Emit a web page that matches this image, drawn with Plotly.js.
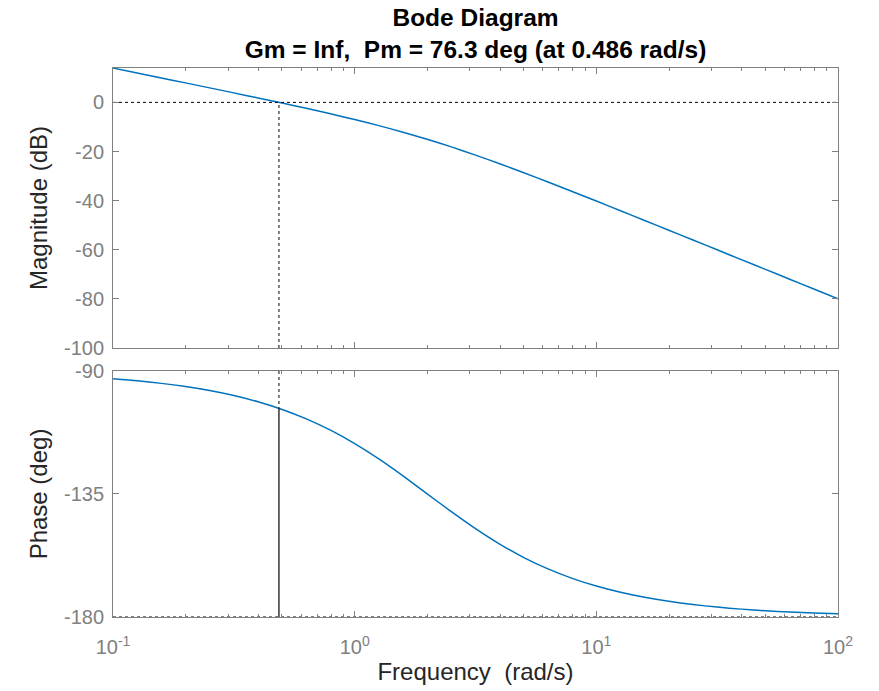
<!DOCTYPE html>
<html>
<head>
<meta charset="utf-8">
<script src="https://cdn.plot.ly/plotly-3.0.1.min.js"></script>
<style>html,body{margin:0;padding:0;background:#fff;}#chart{width:879px;height:691px;}</style>
</head>
<body>
<div id="chart"></div>
<script>
// Frequency samples (rad/s)
const freq = [0.1, 0.1259, 0.1585, 0.1995, 0.2512, 0.3162, 0.3981, 0.5012, 0.631, 0.7943,
  1, 1.259, 1.585, 1.995, 2.512, 3.162, 3.981, 5.012, 6.31, 7.943,
  10, 12.59, 15.85, 19.95, 25.12, 31.62, 39.81, 50.12, 63.1, 79.43, 100];
// Magnitude (dB)
const magnitude = [13.97, 11.96, 9.95, 7.94, 5.91, 3.87, 1.81, -0.29, -2.43, -4.66,
  -6.99, -9.47, -12.14, -15.02, -18.13, -21.46, -24.98, -28.64, -32.42, -36.27,
  -40.17, -44.11, -48.07, -52.04, -56.03, -60.02, -64.01, -68.01, -72.00, -76.00, -80.00];
// Phase (deg)
const phase = [-92.86, -93.60, -94.53, -95.70, -97.16, -98.98, -101.26, -104.07, -107.51, -111.66,
  -116.57, -122.19, -128.40, -134.93, -141.47, -147.69, -153.33, -158.25, -162.41, -165.87,
  -168.69, -170.97, -172.81, -174.28, -175.45, -176.38, -177.12, -177.71, -178.18, -178.56, -178.85];

// Margin information
const crossoverFreq = 0.486;
const phaseMargin = 76.3;
const phaseAtCrossover = -180 + phaseMargin;

const freqRange = [0.1, 100];
const magTicks = [-100, -80, -60, -40, -20, 0];
const magTickText = ['-100', '-80', '-60', '-40', '-20', '0'];
const phaseTicks = [-180, -135, -90];
const phaseTickText = ['-180', '-135', '-90'];
const freqTicks = [0.1, 1, 10, 100];
const freqTickText = ['10<sup>-1</sup>', '10<sup>0</sup>', '10<sup>1</sup>', '10<sup>2</sup>'];
const minorFreqTicks = [0.2,0.3,0.4,0.5,0.6,0.7,0.8,0.9,2,3,4,5,6,7,8,9,20,30,40,50,60,70,80,90];

const blue = '#0072BD';
const axisGray = '#808080';
const labelGray = '#808080';
const dark = '#262626';
const FONT = 'Liberation Sans, Arial, Helvetica, sans-serif';

const traces = [
  {x: freq, y: magnitude, xaxis: 'x', yaxis: 'y', mode: 'lines', line: {color: blue, width: 1.5, shape: 'spline', smoothing: 0.6}},
  {x: freqRange, y: [0, 0], xaxis: 'x', yaxis: 'y', mode: 'lines', line: {color: '#000', width: 1, dash: 'dot'}},
  {x: [crossoverFreq, crossoverFreq], y: [-100, 0], xaxis: 'x', yaxis: 'y', mode: 'lines', line: {color: '#000', width: 1, dash: 'dot'}},
  {x: freq, y: phase, xaxis: 'x2', yaxis: 'y2', mode: 'lines', line: {color: blue, width: 1.5, shape: 'spline', smoothing: 0.6}},
  {x: freqRange, y: [-180, -180], xaxis: 'x2', yaxis: 'y2', mode: 'lines', line: {color: '#000', width: 1, dash: 'dot'}},
  {x: [crossoverFreq, crossoverFreq], y: [-90, phaseAtCrossover], xaxis: 'x2', yaxis: 'y2', mode: 'lines', line: {color: '#000', width: 1, dash: 'dot'}},
  {x: [crossoverFreq, crossoverFreq], y: [phaseAtCrossover, -180], xaxis: 'x2', yaxis: 'y2', mode: 'lines', line: {color: '#000', width: 1.2}}
];

const commonX = {
  type: 'log', range: [-1, 2], showgrid: false, zeroline: false,
  showline: true, linecolor: axisGray, linewidth: 1, mirror: 'allticks',
  ticks: 'inside', ticklen: 6, tickcolor: axisGray, tickwidth: 1,
  tickvals: freqTicks, ticktext: freqTickText,
  minor: {tickvals: minorFreqTicks, ticks: 'inside', ticklen: 3, tickcolor: axisGray, showgrid: false},
  tickfont: {family: FONT, size: 20, color: labelGray}
};
const commonY = {
  showgrid: false, zeroline: false, showline: true, linecolor: axisGray, linewidth: 1, mirror: 'allticks',
  ticks: 'inside', ticklen: 6, tickcolor: axisGray, tickwidth: 1,
  tickfont: {family: FONT, size: 20, color: labelGray}, ticklabelstandoff: 4
};

const layout = {
  width: 879, height: 691,
  margin: {l: 113, r: 41, t: 68, b: 74},
  paper_bgcolor: '#fff', plot_bgcolor: '#fff',
  showlegend: false,
  font: {family: FONT, color: dark},
  title: {
    text: '<b>Bode Diagram</b><br><b>Gm = Inf,\u00a0 Pm = 76.3 deg (at 0.486 rad/s)</b>',
    font: {family: FONT, size: 24.5, color: '#000'},
    x: 0.5, xref: 'paper', xanchor: 'center',
    y: 0.962, yref: 'container', yanchor: 'top'
  },
  xaxis: Object.assign({}, commonX, {domain: [0, 1], anchor: 'y', showticklabels: false}),
  yaxis: Object.assign({}, commonY, {domain: [0.49, 1], range: [-100, 14], tickvals: magTicks, ticktext: magTickText,
    title: {text: 'Magnitude (dB)', font: {family: FONT, size: 24, color: dark}, standoff: 9}}),
  xaxis2: Object.assign({}, commonX, {domain: [0, 1], anchor: 'y2', ticklabelstandoff: 12,
    title: {text: 'Frequency\u00a0 (rad/s)', font: {family: FONT, size: 24, color: dark}, standoff: 6}}),
  yaxis2: Object.assign({}, commonY, {domain: [0, 0.4481], range: [-180, -90], tickvals: phaseTicks, ticktext: phaseTickText,
    title: {text: 'Phase (deg)', font: {family: FONT, size: 24, color: dark}, standoff: 9}})
};

Plotly.newPlot('chart', traces, layout, {displayModeBar: false, staticPlot: true});
</script>
</body>
</html>
